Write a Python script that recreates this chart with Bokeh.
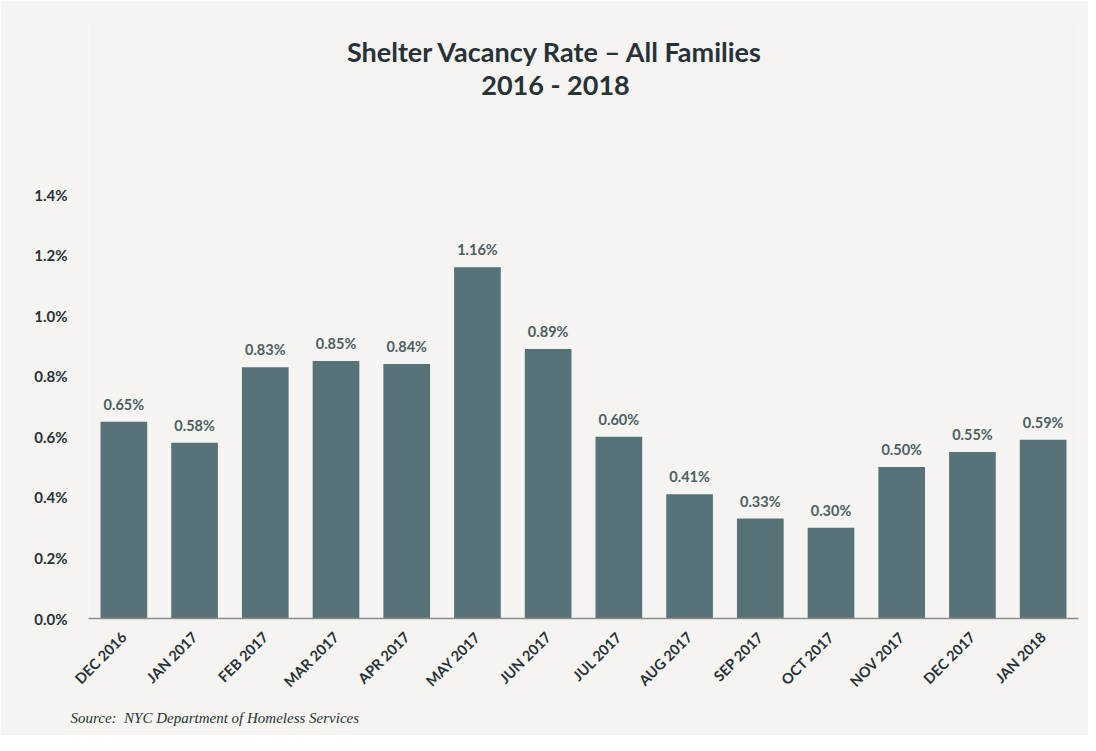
from math import pi
from bokeh.plotting import figure
from bokeh.models import FactorRange, Range1d, FixedTicker, PrintfTickFormatter, Label, Title, ColumnDataSource
from bokeh.core.properties import value
from bokeh.embed import file_html
from bokeh.resources import INLINE

months = ["DEC 2016", "JAN 2017", "FEB 2017", "MAR 2017", "APR 2017", "MAY 2017", "JUN 2017",
          "JUL 2017", "AUG 2017", "SEP 2017", "OCT 2017", "NOV 2017", "DEC 2017", "JAN 2018"]
rates = [0.65, 0.58, 0.83, 0.85, 0.84, 1.16, 0.89, 0.60, 0.41, 0.33, 0.30, 0.50, 0.55, 0.59]
y_ticks = [0.0, 0.2, 0.4, 0.6, 0.8, 1.0, 1.2, 1.4]
title_line1 = "Shelter Vacancy Rate \u2013 All Families"
title_line2 = "2016 - 2018"
source_note = "Source:\u00a0 NYC Department of Homeless Services"

BG = "#f5f4f0"
BAR = "#577279"
DARK = "#263238"
VAL = "#4b5f64"
FONT = "Lato"

# layout geometry (pixels): frame spans from FRAME_TOP to FRAME_BOTTOM,
# the 1.4% tick sits at TICK_TOP; the space above holds the titles
FRAME_TOP, TICK_TOP, FRAME_BOTTOM = 20, 194, 618
y_max = max(y_ticks) * (FRAME_BOTTOM - FRAME_TOP) / (FRAME_BOTTOM - TICK_TOP)

src = ColumnDataSource(dict(month=months, rate=rates, lbl=[f"{v:.2f}%" for v in rates]))

p = figure(x_range=FactorRange(factors=months, range_padding=0), y_range=Range1d(0, y_max),
           width=1088, height=735, output_backend="svg", toolbar_location=None,
           min_border_left=88, min_border_right=10, min_border_top=FRAME_TOP,
           min_border_bottom=735 - FRAME_BOTTOM)
p.background_fill_color = BG
p.border_fill_color = BG
p.outline_line_color = None
p.grid.grid_line_color = None

p.vbar(x="month", top="rate", width=0.66, source=src, fill_color=BAR, line_color=None)
p.text(x="month", y="rate", text="lbl", source=src, text_align="center", text_baseline="bottom",
       y_offset=-9, text_font=value(FONT), text_font_style="bold", text_font_size="14.5px",
       text_color=VAL)

p.yaxis.ticker = FixedTicker(ticks=y_ticks)
p.yaxis.formatter = PrintfTickFormatter(format="%.1f%%")
p.yaxis.axis_line_color = None
p.yaxis.major_tick_line_color = None
p.yaxis.minor_tick_line_color = None
p.yaxis.major_label_standoff = 15
p.yaxis.major_label_text_font = FONT
p.yaxis.major_label_text_font_style = "bold"
p.yaxis.major_label_text_font_size = "15px"
p.yaxis.major_label_text_color = DARK

p.xaxis.axis_line_color = "#8c8c8c"
p.xaxis.axis_line_width = 1.5
p.xaxis.major_tick_line_color = None
p.xaxis.minor_tick_line_color = None
p.xaxis.major_label_orientation = pi / 4
p.xaxis.major_label_standoff = 10
p.xaxis.major_label_text_font = FONT
p.xaxis.major_label_text_font_style = "bold"
p.xaxis.major_label_text_font_size = "14.5px"
p.xaxis.major_label_text_color = DARK

for txt, yy in ((title_line1, FRAME_BOTTOM - 51), (title_line2, FRAME_BOTTOM - 84)):
    p.add_layout(Label(x=467, y=yy, x_units="screen", y_units="screen", text=txt,
                       text_align="center", text_baseline="alphabetic", text_font=FONT,
                       text_font_style="bold", text_font_size="27px", text_color=DARK))

p.add_layout(Title(text=source_note, align="left", offset=-18, standoff=17,
                   text_font="Liberation Serif", text_font_style="italic",
                   text_font_size="15px", text_color=DARK), "below")

open("out.html", "w").write(file_html(p, INLINE))
